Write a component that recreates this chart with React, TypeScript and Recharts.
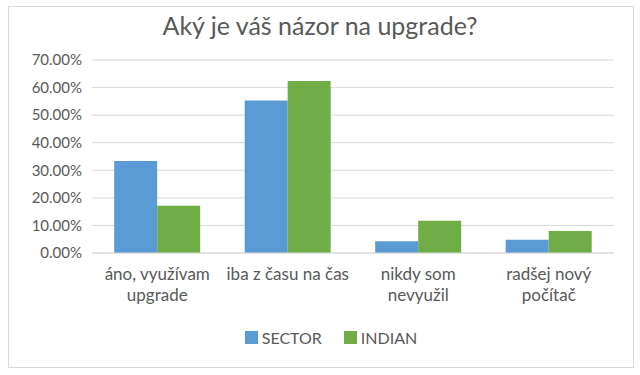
import { BarChart, Bar, XAxis, YAxis, CartesianGrid, Legend } from 'recharts';

const categories = ['áno, využívam\nupgrade', 'iba z času na čas', 'nikdy som\nnevyužil', 'radšej nový\npočítač'];
const sectorValues = [33.4, 55.3, 4.3, 4.8];
const indianValues = [17.1, 62.4, 11.7, 8.0];
const yTicks = [0, 10, 20, 30, 40, 50, 60, 70];

const data = categories.map((name, i) => ({
  name,
  SECTOR: sectorValues[i],
  INDIAN: indianValues[i],
}));

const FONT = 'Lato, "Open Sans", sans-serif';
const TEXT = '#595959';

function CategoryTick(props: any) {
  const { x, y, payload } = props;
  const lines = String(payload.value).split('\n');
  return (
    <text x={x} y={y} textAnchor="middle" fill={TEXT} fontSize={17} fontFamily={FONT}>
      {lines.map((line, i) => (
        <tspan key={i} x={x} dy={i === 0 ? 19 : 21}>{line}</tspan>
      ))}
    </text>
  );
}

function LegendContent() {
  const items = [
    { label: 'SECTOR', color: '#5B9BD5' },
    { label: 'INDIAN', color: '#70AD47' },
  ];
  return (
    <div style={{ display: 'flex', justifyContent: 'center', gap: 22, fontFamily: FONT, fontSize: 16, color: TEXT, paddingLeft: 48 }}>
      {items.map(it => (
        <div key={it.label} style={{ display: 'flex', alignItems: 'center', gap: 4 }}>
          <span style={{ width: 13, height: 13, background: it.color, display: 'inline-block' }} />
          <span>{it.label}</span>
        </div>
      ))}
    </div>
  );
}

export default function App() {
  return (
    <div style={{ position: 'absolute', left: 0, top: 0, width: 640, height: 375, background: '#fff' }}>
      <div style={{ position: 'absolute', left: 8, top: 6, width: 624, height: 360, border: '1px solid #D9D9D9' }} />
      <div style={{ position: 'absolute', left: 0, top: 10, width: 640, textAlign: 'center', fontFamily: FONT, fontSize: 25, color: TEXT }}>
        Aký je váš názor na upgrade?
      </div>
      <div style={{ position: 'absolute', left: 0, top: 0 }}>
        <BarChart
          width={640}
          height={375}
          data={data}
          margin={{ top: 60, right: 26, left: 0, bottom: 27 }}
          barCategoryGap="17%"
          barGap={0}
        >
          <CartesianGrid vertical={false} stroke="#D9D9D9" strokeWidth={1} />
          <XAxis
            dataKey="name"
            axisLine={{ stroke: '#D9D9D9' }}
            tickLine={false}
            interval={0}
            height={75}
            tick={<CategoryTick />}
          />
          <YAxis
            width={92}
            domain={[0, 70]}
            ticks={yTicks}
            axisLine={false}
            tickLine={false}
            tickMargin={4}
            tick={{ fill: TEXT, fontSize: 15, fontFamily: FONT }}
            tickFormatter={(v: number) => `${v.toFixed(2)}%`}
          />
          <Legend verticalAlign="bottom" height={20} content={<LegendContent />} />
          <Bar dataKey="SECTOR" fill="#5B9BD5" isAnimationActive={false} />
          <Bar dataKey="INDIAN" fill="#70AD47" isAnimationActive={false} />
        </BarChart>
      </div>
    </div>
  );
}
